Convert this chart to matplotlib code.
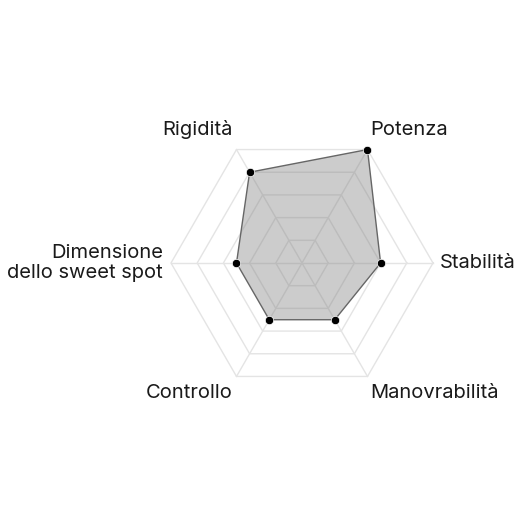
import numpy as np
import matplotlib.pyplot as plt

plt.rcParams['font.family'] = ['Inter', 'DejaVu Sans']

labels = ["Stabilità", "Potenza", "Rigidità", "Dimensione\ndello sweet spot", "Controllo", "Manovrabilità"]
values = [6, 10, 8, 5, 5, 5]
max_val = 10
levels = [2, 4, 6, 8, 10]

angles = np.deg2rad(np.arange(0, 360, 60))

fig = plt.figure(figsize=(5.26, 5.26), dpi=100)
ax = fig.add_axes([0, 0, 1, 1])
px = 131 / max_val  # pixels per unit
cx, cy = 302, 263
ax.set_xlim(-cx / px, (526 - cx) / px)
ax.set_ylim(-(526 - cy) / px, cy / px)
ax.set_aspect('equal')
ax.axis('off')

# grid
for r in levels:
    xs = r * np.cos(np.append(angles, angles[0]))
    ys = r * np.sin(np.append(angles, angles[0]))
    ax.plot(xs, ys, color='#e4e4e4', lw=1, zorder=1)
for a in angles:
    ax.plot([0, max_val * np.cos(a)], [0, max_val * np.sin(a)], color='#e4e4e4', lw=1, zorder=1)

# data
v = np.array(values)
xs = v * np.cos(angles)
ys = v * np.sin(angles)
ax.fill(xs, ys, color='#808080', alpha=0.4, lw=0, zorder=2)
ax.plot(np.append(xs, xs[0]), np.append(ys, ys[0]), color='#666666', lw=1, zorder=3)
ax.scatter(xs, ys, s=36, color='black', edgecolor='white', linewidth=0.5, zorder=4)

# labels
for lab, a in zip(labels, angles):
    vx, vy = max_val * np.cos(a), max_val * np.sin(a)
    c = np.cos(a)
    if abs(c) > 0.9:
        ha = 'left' if c > 0 else 'right'
        dx = 7 if c > 0 else -8
        dy = 0
    else:
        ha = 'left' if c > 0 else 'right'
        dx = 3 if c > 0 else -4
        dy = 20 if np.sin(a) > 0 else -17
    ax.text(vx + dx / px, vy + dy / px, lab, ha=ha, va='center', fontsize=14.5,
            color='#1a1a1a', linespacing=1.2)

fig.savefig('out.png', dpi=100)
